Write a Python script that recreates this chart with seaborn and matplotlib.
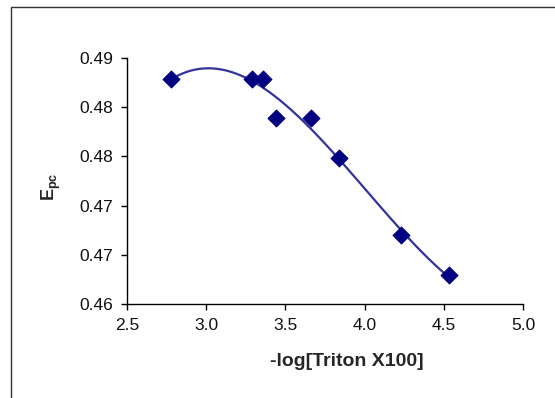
import numpy as np
import pandas as pd
import matplotlib
matplotlib.use("Agg")
import matplotlib.pyplot as plt
from matplotlib.patches import Rectangle
import seaborn as sns

# values
neg_log_triton = [2.78, 3.29, 3.36, 3.44, 3.66, 3.84, 4.23, 4.53]
epc = [0.4874, 0.4874, 0.4874, 0.4827, 0.4827, 0.4778, 0.4684, 0.4635]
x_ticks = [2.5, 3.0, 3.5, 4.0, 4.5, 5.0]
y_ticks = [0.460, 0.466, 0.472, 0.478, 0.484, 0.490]

df = pd.DataFrame({"x": neg_log_triton, "y": epc})

sns.set_style("white")
plt.rcParams["font.family"] = ["Liberation Sans", "DejaVu Sans"]
plt.rcParams["mathtext.fontset"] = "custom"
plt.rcParams["mathtext.rm"] = "Liberation Sans"
plt.rcParams["mathtext.bf"] = "Liberation Sans:bold"

fig = plt.figure(figsize=(5.55, 3.98), dpi=100)
ax = fig.add_axes([0.2285, 0.236, 0.7145, 0.619])

# trendline (3rd order polynomial like the spreadsheet)
sns.regplot(data=df, x="x", y="y", order=3, ci=None, scatter=False,
            line_kws={"color": "#333399", "lw": 1.6}, ax=ax)
sns.scatterplot(data=df, x="x", y="y", marker="D", s=75, color="#000080",
                edgecolor="#000080", zorder=5, ax=ax)

ax.set_xlim(2.5, 5.0)
ax.set_ylim(0.46, 0.49)
ax.set_xticks(x_ticks)
ax.set_xticklabels([f"{t:.1f}" for t in x_ticks])
ax.set_yticks(y_ticks)
ax.set_yticklabels([f"{t:.2f}" for t in y_ticks])
ax.tick_params(axis="both", direction="out", length=4, width=1, colors="black",
               labelsize=12.5, labelcolor="#111111", left=True, bottom=True)
ax.tick_params(axis="x", pad=6)
ax.tick_params(axis="y", pad=6)

for s in ["top", "right"]:
    ax.spines[s].set_visible(False)
for s in ["left", "bottom"]:
    ax.spines[s].set_color("black")
    ax.spines[s].set_linewidth(1)

ax.set_xlabel("-log[Triton X100]", fontsize=14, fontweight="bold")
ax.xaxis.set_label_coords(0.555, -0.197)
ax.set_ylabel(r"$\mathbf{E}_{\mathbf{pc}}$", fontsize=13)
ax.yaxis.set_label_coords(-0.162, 0.476)

# outer chart border (runs off the right and bottom of the picture)
fig.patches.append(Rectangle((10.5 / 555, -0.05), 1.1, 1 - 6.5 / 398 + 0.05,
                             transform=fig.transFigure, fill=False,
                             edgecolor="#333333", lw=1))

fig.savefig("out.png", dpi=100)
